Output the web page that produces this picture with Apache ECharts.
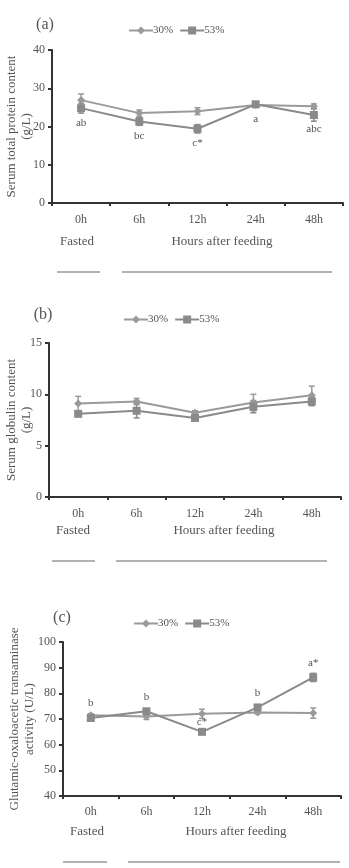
<!DOCTYPE html>
<html>
<head>
<meta charset="utf-8">
<script src="https://cdn.jsdelivr.net/npm/echarts@6/dist/echarts.min.js"></script>
<style>
  html, body { margin: 0; padding: 0; background: #fff; }
  #chart { width: 349px; height: 868px; }
</style>
</head>
<body>
<div id="chart"></div>
<script>
// categories (time after feeding)
const cats = ['0h', '6h', '12h', '24h', '48h'];

// (a) serum total protein, g/L
const protein30 = [26.9, 23.5, 24.0, 25.6, 25.3];
const protein53 = [24.8, 21.3, 19.4, 25.8, 23.0];
const proteinErr30 = [1.6, 0.8, 0.9, 0.5, 0.6];
const proteinErr53 = [1.3, 1.0, 1.1, 0.6, 1.6];
const proteinLetters = ['ab', 'bc', 'c*', 'a', 'abc'];

// (b) serum globulin, g/L
const globulin30 = [9.1, 9.3, 8.2, 9.2, 9.9];
const globulin53 = [8.1, 8.4, 7.7, 8.8, 9.3];
const globulinErr30 = [0.7, 0.3, 0.2, 0.8, 0.9];
const globulinErr53 = [0.2, 0.7, 0.2, 0.6, 0.4];

// (c) glutamic-oxaloacetic transaminase, U/L
const got30 = [71.5, 71.0, 72.0, 72.5, 72.3];
const got53 = [70.4, 73.0, 65.0, 74.5, 86.2];
const gotErr30 = [0.6, 1.2, 1.8, 0.5, 2.0];
const gotErr53 = [0.8, 0.8, 0.6, 0.8, 1.6];
const gotLetters = ['b', 'b', 'c*', 'b', 'a*'];

const font = 'Liberation Serif';
const txt = '#555';
const axisCol = '#333';
const c30 = '#9a9a9a';
const c53 = '#8a8a8a';

const myChart = echarts.init(document.getElementById('chart'));

function xAxisOf(grid, margin) {
  return {
    type: 'category', gridIndex: grid, data: cats,
    axisLine: { lineStyle: { color: axisCol, width: 2 } },
    axisTick: { show: true, length: 3, lineStyle: { color: axisCol, width: 2 } },
    axisLabel: { color: txt, fontFamily: font, fontSize: 12, margin: margin }
  };
}

function yAxisOf(grid, min, max, interval, name, gap) {
  return {
    type: 'value', gridIndex: grid, min: min, max: max, interval: interval,
    name: name, nameLocation: 'middle', nameRotate: 90, nameGap: gap,
    nameMoveOverlap: false,
    nameTextStyle: { color: txt, fontFamily: font, fontSize: 13, lineHeight: 15 },
    splitLine: { show: false },
    axisLine: { show: true, lineStyle: { color: axisCol, width: 2 } },
    axisTick: { show: true, length: 4, lineStyle: { color: axisCol, width: 2 } },
    axisLabel: { color: txt, fontFamily: font, fontSize: 12, margin: 7 }
  };
}

// I-shaped error bars
function errSeries(name, idx, vals, errs, color) {
  return {
    name: name, type: 'custom', xAxisIndex: idx, yAxisIndex: idx, z: 3,
    itemStyle: { color: color },
    data: vals.map((v, i) => [i, v - errs[i], v + errs[i]]),
    renderItem: function (params, api) {
      const lo = api.coord([api.value(0), api.value(1)]);
      const hi = api.coord([api.value(0), api.value(2)]);
      const w = 3;
      const st = { stroke: color, lineWidth: 1.5 };
      return {
        type: 'group',
        children: [
          { type: 'line', shape: { x1: lo[0], y1: lo[1], x2: hi[0], y2: hi[1] }, style: st },
          { type: 'line', shape: { x1: lo[0] - w, y1: lo[1], x2: lo[0] + w, y2: lo[1] }, style: st },
          { type: 'line', shape: { x1: hi[0] - w, y1: hi[1], x2: hi[0] + w, y2: hi[1] }, style: st }
        ]
      };
    }
  };
}

function lineSeries(name, idx, vals, color, symbol, size, letters, pos, dist) {
  return {
    name: name, type: 'line', xAxisIndex: idx, yAxisIndex: idx, z: 4,
    symbol: symbol, symbolSize: size, showAllSymbol: true,
    itemStyle: { color: color },
    lineStyle: { color: color, width: 2 },
    data: vals.map((v, i) => {
      if (!letters) return v;
      return {
        value: v,
        label: {
          show: true, formatter: letters[i], position: pos,
          distance: letters[i] === 'c*' && pos === 'top' ? 0 : dist,
          color: txt, fontFamily: font, fontSize: 11
        }
      };
    })
  };
}

function legendAt(top, left) {
  return {
    top: top, left: left, itemWidth: 24, itemHeight: 10, itemGap: 6,
    data: ['30%', '53%'],
    textStyle: { color: txt, fontFamily: font, fontSize: 11, padding: [0, 0, 0, -5] }
  };
}

function textAt(x, y, s, size) {
  return { type: 'text', x: x, y: y, style: { text: s, fill: txt, font: size + 'px "' + font + '"', textAlign: 'center', textVerticalAlign: 'middle' } };
}
function ruleAt(x1, x2, y) {
  return { type: 'line', shape: { x1: x1, y1: y, x2: x2, y2: y }, style: { stroke: '#666', lineWidth: 1.2 } };
}

const gridBase = { containLabel: false, outerBoundsMode: 'none' };

myChart.setOption({
  animation: false,
  grid: [
    Object.assign({ left: 52, right: 6, top: 50, height: 153 }, gridBase),
    Object.assign({ left: 49, right: 8, top: 343, height: 154 }, gridBase),
    Object.assign({ left: 63, right: 8, top: 642, height: 154 }, gridBase)
  ],
  legend: [legendAt(20, 123), legendAt(309, 118), legendAt(613, 128)],
  xAxis: [xAxisOf(0, 11), xAxisOf(1, 11), xAxisOf(2, 10)],
  yAxis: [
    yAxisOf(0, 0, 40, 10, 'Serum total protein content\n(g/L)', 18),
    yAxisOf(1, 0, 15, 5, 'Serum globulin content\n(g/L)', 15),
    yAxisOf(2, 40, 100, 10, 'Glutamic-oxaloacetic transaminase\nactivity (U/L)', 26)
  ],
  series: [
    lineSeries('30%', 0, protein30, c30, 'diamond', 8),
    lineSeries('53%', 0, protein53, c53, 'rect', 8, proteinLetters, 'bottom', 5),
    errSeries('30%', 0, protein30, proteinErr30, c30),
    errSeries('53%', 0, protein53, proteinErr53, c53),

    lineSeries('30%', 1, globulin30, c30, 'diamond', 8),
    lineSeries('53%', 1, globulin53, c53, 'rect', 8),
    errSeries('30%', 1, globulin30, globulinErr30, c30),
    errSeries('53%', 1, globulin53, globulinErr53, c53),

    lineSeries('30%', 2, got30, c30, 'diamond', 8),
    lineSeries('53%', 2, got53, c53, 'rect', 8, gotLetters, 'top', 5),
    errSeries('30%', 2, got30, gotErr30, c30),
    errSeries('53%', 2, got53, gotErr53, c53)
  ],
  graphic: [
    textAt(45, 25, '(a)', 16),
    textAt(77, 242, 'Fasted', 13),
    textAt(222, 242, 'Hours after feeding', 13),
    ruleAt(57, 100, 272),
    ruleAt(122, 332, 272),

    textAt(43, 315, '(b)', 16),
    textAt(73, 531, 'Fasted', 13),
    textAt(224, 531, 'Hours after feeding', 13),
    ruleAt(52, 95, 561),
    ruleAt(116, 327, 561),

    textAt(62, 618, '(c)', 16),
    textAt(87, 832, 'Fasted', 13),
    textAt(236, 832, 'Hours after feeding', 13),
    ruleAt(63, 107, 862),
    ruleAt(128, 340, 862)
  ]
});
</script>
</body>
</html>
